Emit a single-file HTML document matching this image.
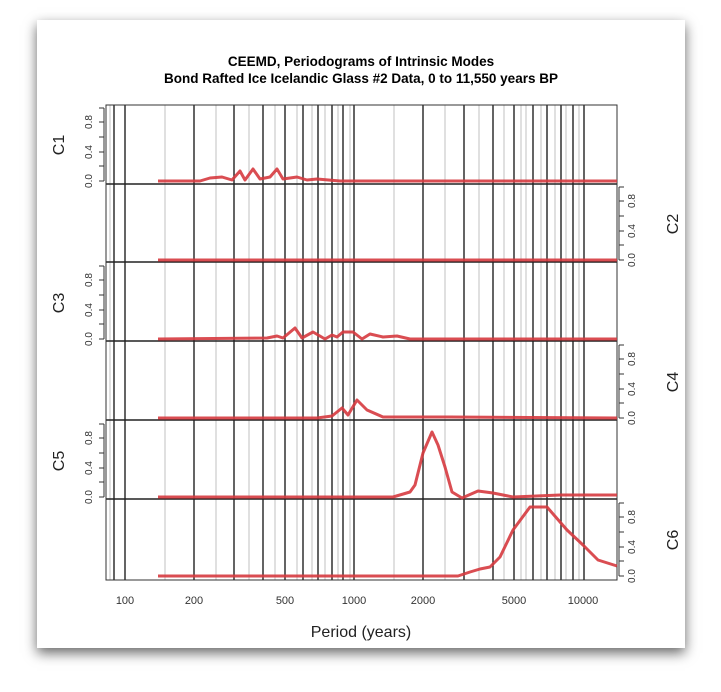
<!DOCTYPE html>
<html><head><style>
body{margin:0;background:#fff;}
.card{position:absolute;left:37px;top:20px;width:648px;height:628px;background:#fff;box-shadow:0 5px 12px rgba(0,0,0,0.6);}
</style></head><body>
<div class="card"></div>
<svg width="721" height="692" style="position:absolute;left:0;top:0" font-family="Liberation Sans, sans-serif">
<text x="361" y="66" text-anchor="middle" font-size="13.5" font-weight="bold">CEEMD, Periodograms of Intrinsic Modes</text>
<text x="361" y="83" text-anchor="middle" font-size="13.5" font-weight="bold">Bond Rafted Ice Icelandic Glass #2 Data, 0 to 11,550 years BP</text>
<g stroke="#ccc" stroke-width="1.2">
<path d="M110 105V580M165 105V580M216 105V580M249 105V580M275 105V580M297 105V580M312 105V580M325 105V580M338 105V580M350 105V580M394 105V580M445 105V580M479 105V580M504 105V580M521 105V580M526 105V580M541 105V580M555 105V580M566 105V580M579 105V580"/>
</g>
<g stroke="#222" stroke-width="1.4">
<path d="M114 105V580M125 105V580M194 105V580M234 105V580M263 105V580M285 105V580M303 105V580M318 105V580M332 105V580M343 105V580M354 105V580M423 105V580M464 105V580M493 105V580M514 105V580M533 105V580M547 105V580M561 105V580M573 105V580M584 105V580"/>
<path d="M106 184H617M106 262H617M106 341H617M106 420H617M106 499H617" stroke-width="1.6"/>
</g>
<rect x="106" y="105" width="511" height="475" fill="none" stroke="#333" stroke-width="1"/>
<g fill="none" stroke="#d63a3f" stroke-width="3" stroke-opacity="0.9" stroke-linejoin="round">
<path d="M158 181L200 181L210 178L222 177L232 180L240 171L245 180L253 169L260 179L270 177L277 169L283 179L297 177L307 180L317 179L340 181L617 181"/>
<path d="M158 260L617 260"/>
<path d="M158 339L267 338L277 336L283 338L295 328L302 338L313 332L325 339L332 335L337 337L343 332L353 332L362 339L370 334L383 337L397 336L410 339L617 339"/>
<path d="M158 418L317 418L332 416L342 408L348 415L357 400L367 410L383 417L450 417L617 418"/>
<path d="M158 497L393 497L410 492L415 485L423 453L432 432L438 445L445 467L452 492L462 498L478 491L493 493L513 497L560 495L617 495"/>
<path d="M158 576L440 576L458 576L470 572L480 569L490 567L500 557L513 530L530 507L547 507L567 530L583 545L598 560L617 566"/>
</g>
<g stroke="#333" stroke-width="1" fill="none">
<path d="M104 181H99M104 166H99M104 152H99M104 137H99M104 122H99M104 108H99M104 108V181"/>
<path d="M104 339H99M104 324H99M104 310H99M104 295H99M104 280H99M104 266H99M104 266V339"/>
<path d="M104 497H99M104 482H99M104 468H99M104 453H99M104 438H99M104 424H99M104 424V497"/>
<path d="M619 260H624M619 245H624M619 231H624M619 216H624M619 201H624M619 187H624M619 187V260"/>
<path d="M619 418H624M619 403H624M619 389H624M619 374H624M619 359H624M619 345H624M619 345V418"/>
<path d="M619 576H624M619 561H624M619 547H624M619 532H624M619 517H624M619 503H624M619 503V576"/>
</g>
<g font-size="10" fill="#333" text-anchor="middle">
<text transform="translate(92,181) rotate(-90)">0.0</text><text transform="translate(92,152) rotate(-90)">0.4</text><text transform="translate(92,122) rotate(-90)">0.8</text>
<text transform="translate(92,339) rotate(-90)">0.0</text><text transform="translate(92,310) rotate(-90)">0.4</text><text transform="translate(92,280) rotate(-90)">0.8</text>
<text transform="translate(92,497) rotate(-90)">0.0</text><text transform="translate(92,468) rotate(-90)">0.4</text><text transform="translate(92,438) rotate(-90)">0.8</text>
<text transform="translate(635,260) rotate(-90)">0.0</text><text transform="translate(635,231) rotate(-90)">0.4</text><text transform="translate(635,201) rotate(-90)">0.8</text>
<text transform="translate(635,418) rotate(-90)">0.0</text><text transform="translate(635,389) rotate(-90)">0.4</text><text transform="translate(635,359) rotate(-90)">0.8</text>
<text transform="translate(635,576) rotate(-90)">0.0</text><text transform="translate(635,547) rotate(-90)">0.4</text><text transform="translate(635,517) rotate(-90)">0.8</text>
</g>
<g font-size="16" fill="#222" text-anchor="middle">
<text transform="translate(64,145) rotate(-90)">C1</text>
<text transform="translate(64,303) rotate(-90)">C3</text>
<text transform="translate(64,461) rotate(-90)">C5</text>
<text transform="translate(678,224) rotate(-90)">C2</text>
<text transform="translate(678,382) rotate(-90)">C4</text>
<text transform="translate(678,540) rotate(-90)">C6</text>
</g>
<g font-size="11" fill="#333" text-anchor="middle">
<text x="125" y="604">100</text><text x="194" y="604">200</text><text x="285" y="604">500</text><text x="354" y="604">1000</text>
<text x="423" y="604">2000</text><text x="514" y="604">5000</text><text x="583" y="604">10000</text>
</g>
<text x="361" y="637" text-anchor="middle" font-size="16" fill="#222">Period (years)</text>
</svg>
</body></html>
